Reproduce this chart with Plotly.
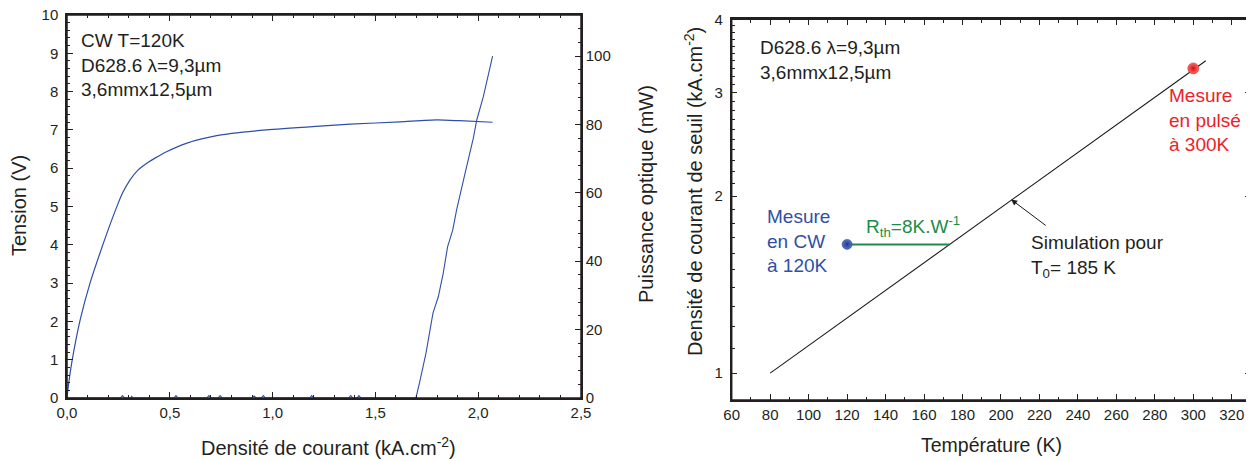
import numpy as np
import plotly.graph_objects as go

# ---------------- data: left panel (CW characteristics at 120 K) ----------------
j_voltage = [0.0, 0.006, 0.024, 0.064, 0.112, 0.16, 0.2, 0.242, 0.27, 0.306, 0.345, 0.388,
             0.43, 0.484, 0.58, 0.728, 0.97, 1.23, 1.377, 1.62, 1.80, 1.907, 2.07]
voltage = [0.0, 0.29, 0.95, 2.04, 3.0, 3.78, 4.39, 4.99, 5.35, 5.69, 5.95, 6.13,
           6.27, 6.43, 6.65, 6.85, 7.0, 7.10, 7.15, 7.21, 7.26, 7.24, 7.20]

j_power = [0.0, 0.26, 0.27, 0.28, 0.31, 0.315, 0.32, 0.52, 0.53, 0.54, 0.68, 0.69, 0.70,
           0.735, 0.745, 0.755, 0.90, 0.91, 0.92, 0.945, 0.955, 0.965, 1.18, 1.19, 1.20,
           1.37, 1.38, 1.39, 1.41, 1.42, 1.43, 1.697, 1.714, 1.746, 1.78, 1.806, 1.83,
           1.851, 1.876, 1.895, 1.936, 1.976, 1.993, 2.025, 2.07]
power = [0, 0, 0.7, 0, 0, 0.5, 0, 0, 0.7, 0, 0, 0.7, 0,
         0, 0.7, 0, 0, 0.6, 0, 0, 0.7, 0, 0, 0.7, 0,
         0, 0.7, 0, 0, 0.7, 0, 0, 4.3, 13.1, 24.8, 29.6, 36.5,
         44.2, 49.1, 55.0, 65.7, 75.9, 81.3, 88.1, 100.0]

# ---------------- data: right panel (threshold vs temperature) ----------------
sim_temp = [80, 306.5]
sim_jth = [1.0, 3.40]
cw_temp = [120]
cw_jth = [1.656]
rth_temp = [120, 173.3]
rth_jth = [1.656, 1.656]
pulse_temp = [300]
pulse_jth = [3.30]

left_x_ticks = [0.0, 0.5, 1.0, 1.5, 2.0, 2.5]
left_y_ticks = list(range(0, 11))
right_y2_ticks = [0, 20, 40, 60, 80, 100]
temp_ticks = list(range(60, 321, 20))
jth_ticks = [1, 2, 3, 4]

W, H = 1254, 461
OFF = 8  # the page's default body margin shifts the figure by 8px
FONT = "Liberation Sans, Arial, sans-serif"
TXT = "#231F20"
BLUE = "#2F4FA8"
GREEN = "#1E8C48"
RED = "#EC2227"

def px(x):
    return min(1.0, max(0.0, (x - OFF) / W))

def py(y):
    return min(1.0, max(0.0, 1 - (y - OFF) / H))

fig = go.Figure()

fig.add_trace(go.Scatter(x=j_voltage, y=voltage, mode="lines",
                         line=dict(color=BLUE, width=1.2, shape="spline", smoothing=0.6),
                         xaxis="x", yaxis="y", showlegend=False))
fig.add_trace(go.Scatter(x=j_power, y=power, mode="lines",
                         line=dict(color=BLUE, width=1.1),
                         xaxis="x", yaxis="y2", showlegend=False))

fig.add_trace(go.Scatter(x=sim_temp, y=sim_jth, mode="lines",
                         line=dict(color="#1a1a1a", width=1.1),
                         xaxis="x2", yaxis="y3", showlegend=False))
fig.add_trace(go.Scatter(x=rth_temp, y=rth_jth, mode="lines",
                         line=dict(color=GREEN, width=2),
                         xaxis="x2", yaxis="y3", showlegend=False))
fig.add_trace(go.Scatter(x=cw_temp, y=cw_jth, mode="markers",
                         marker=dict(color="#5a74c8", size=10,
                                     gradient=dict(type="radial", color="#1f3a8a"),
                                     line=dict(color="#1f3a8a", width=0.5)),
                         xaxis="x2", yaxis="y3", showlegend=False))
fig.add_trace(go.Scatter(x=pulse_temp, y=pulse_jth, mode="markers",
                         marker=dict(color="#ff6a6a", size=11,
                                     gradient=dict(type="radial", color="#d01010"),
                                     line=dict(color="#c01010", width=0.5)),
                         xaxis="x2", yaxis="y3", showlegend=False))

axis_common = dict(showline=True, linecolor="#231F20", linewidth=1.5, ticks="inside",
                   tickcolor="#231F20", tickwidth=1.2, ticklen=6, showgrid=False,
                   zeroline=False, automargin=False, ticklabeloverflow="allow",
                   tickfont=dict(family=FONT, size=15, color=TXT))

jth_minor = [round(v, 1) for v in np.arange(0.9, 4.0, 0.1) if abs(v - round(v)) > 1e-6]

fig.update_layout(
    width=W, height=H,
    margin=dict(l=0, r=0, t=0, b=0, pad=0, autoexpand=False),
    paper_bgcolor="white", plot_bgcolor="white",
    separators=", ",
    font=dict(family=FONT, color=TXT),
    xaxis=dict(axis_common, domain=[px(67), px(581)], range=[0, 2.5], anchor="y",
               tickmode="array", tickvals=left_x_ticks, tickformat=".1f", mirror="ticks",
               minor=dict(dtick=0.1, tick0=0, ticks="inside", ticklen=3.5, tickcolor="#231F20")),
    yaxis=dict(axis_common, domain=[py(398), py(15)], range=[0, 10], anchor="x",
               tickmode="array", tickvals=left_y_ticks, ticklabelstandoff=4,
               minor=dict(dtick=0.2, tick0=0, ticks="inside", ticklen=3.5, tickcolor="#231F20")),
    yaxis2=dict(axis_common, domain=[py(398), py(15)], range=[0, 112], anchor="x",
                overlaying="y", side="right", tickmode="array", tickvals=right_y2_ticks,
                minor=dict(dtick=4, tick0=0, ticks="inside", ticklen=3.5, tickcolor="#231F20")),
    xaxis2=dict(axis_common, domain=[px(731.7), px(1251)], range=[60, 330], anchor="y3",
                tickmode="array", tickvals=temp_ticks, mirror="ticks",
                minor=dict(dtick=10, tick0=60, ticks="inside", ticklen=3.5, tickcolor="#231F20")),
    yaxis3=dict(axis_common, domain=[py(400), py(19.3)], type="log",
                range=[np.log10(0.9), np.log10(4)], anchor="x2", ticklabelstandoff=4,
                tickmode="array", tickvals=jth_ticks, mirror="ticks",
                minor=dict(tickmode="array", tickvals=jth_minor, ticks="inside",
                           ticklen=3.5, tickcolor="#231F20")),
)

# explicit frames around both plot areas
for xr, yr in (("x domain", "y domain"), ("x2 domain", "y3 domain")):
    fig.add_shape(type="rect", xref=xr, yref=yr, x0=0, x1=1, y0=0, y1=1,
                  line=dict(color="#231F20", width=1.5), fillcolor="rgba(0,0,0,0)",
                  layer="above")

ann = []
def text(x, y, t, color=TXT, size=19, angle=0, xanchor="left"):
    ann.append(dict(x=px(x), y=py(y), xref="paper", yref="paper", text=t, showarrow=False,
                    xanchor=xanchor, yanchor="middle", align="left", textangle=angle,
                    font=dict(family=FONT, size=size, color=color)))

# axis titles
text(19, 206, "Tension (V)", size=20, angle=-90, xanchor="center")
text(646, 194, "Puissance optique (mW)", size=20, angle=-90, xanchor="center")
text(328, 446, "Densité de courant (kA.cm<sup>-2</sup>)", size=20, xanchor="center")
text(693, 192, "Densité de courant de seuil (kA.cm<sup>-2</sup>)", size=20, angle=-90,
     xanchor="center")
text(991, 445, "Température (K)", size=19.5, xanchor="center")

# in-plot labels
text(79, 65, "CW T=120K<br>D628.6 λ=9,3µm<br>3,6mmx12,5µm")
text(758, 60, "D628.6 λ=9,3µm<br>3,6mmx12,5µm")
text(765, 241, "Mesure<br>en CW<br>à 120K", color=BLUE)
text(1167, 120, "Mesure<br>en pulsé<br>à 300K", color=RED)
text(864, 226, "R<sub>th</sub>=8K.W<sup>-1</sup>", color=GREEN)
text(1029, 256, "Simulation pour<br>T<sub>0</sub>= 185 K")

ann.append(dict(x=205.3, y=np.log10(1.974), xref="x2", yref="y3", ax=36, ay=27,
                showarrow=True, arrowhead=2, arrowsize=1.2, arrowwidth=1,
                arrowcolor="#1a1a1a", text=""))

fig.update_layout(annotations=ann)

fig.write_html("out.html", config={"displayModeBar": False})
